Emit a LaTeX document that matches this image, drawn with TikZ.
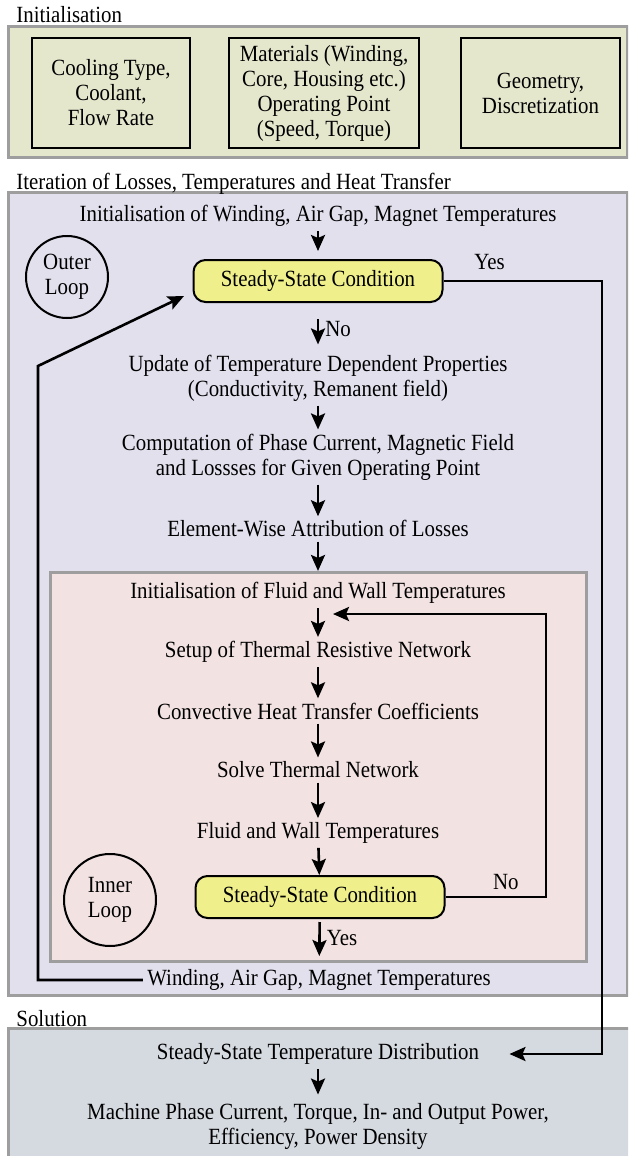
\documentclass[tikz,border=0pt]{standalone}
\usepackage{fontspec}
\setmainfont[FakeStretch=0.9]{Liberation Serif}
\usepackage{tikz}
\usetikzlibrary{arrows.meta,positioning}

\definecolor{initbg}{HTML}{E5E7CD}
\definecolor{iterbg}{HTML}{E3E0EE}
\definecolor{innerbg}{HTML}{F3E2E2}
\definecolor{solbg}{HTML}{D5D9E0}
\definecolor{panelgray}{HTML}{9E9E9E}
\definecolor{condyellow}{HTML}{EFEF8C}

\begin{document}
\begin{tikzpicture}[x=0.5pt,y=-0.5pt,>={Stealth[length=8pt,width=7pt,inset=1.5pt]},
    font=\fontsize{11.6}{12.5}\selectfont,
    panel/.style={draw=panelgray,line width=1.5pt},
    inbox/.style={draw,line width=1pt,minimum width=79pt,minimum height=55pt,align=center},
    stage/.style={align=center,inner sep=2pt},
    cond/.style={draw,line width=1pt,rounded corners=6pt,fill=condyellow,
      minimum width=124.5pt,minimum height=21pt},
    loopc/.style={draw,line width=1pt,circle,align=center,inner sep=0pt},
    flow/.style={->,line width=1.3pt},
    title/.style={anchor=base west,inner sep=0pt}]
    \useasboundingbox (0,0) rectangle (628,1156);
    \clip (0,0) rectangle (628,1156);

    % panels
    \draw[panel,fill=initbg] (8,27) rectangle (627,157);
    \draw[panel,fill=iterbg] (8,192) rectangle (627,995);
    \draw[panel,fill=innerbg] (50,572) rectangle (586,961);
    \draw[panel,fill=solbg] (8,1028) rectangle (640,1180);

    \node[title] (tinit) at (16,23) {Initialisation};
    \node[title] (titer) at (16,189) {Iteration of Losses, Temperatures and Heat Transfer};
    \node[title] (tsol) at (16,1026) {Solution};

    % initialisation inputs
    \node[inbox] (cool) at (111,93) {Cooling Type,\\Coolant,\\Flow Rate};
    \node[inbox,minimum width=95pt] (mat) at (324,93) {Materials (Winding,\\Core, Housing etc.)\\Operating Point\\(Speed, Torque)};
    \node[inbox,minimum width=79.5pt] (geo) at (540.5,93) {Geometry,\\Discretization};

    % outer loop
    \node[loopc,minimum size=41pt] (outer) at (67,277) {Outer\\Loop};
    \node[stage] (wmt0) at (318,216) {Initialisation of Winding, Air Gap, Magnet Temperatures};
    \node[cond] (ss1) at (318,281) {Steady-State Condition};
    \node[stage] (upd) at (318,378) {Update of Temperature Dependent Properties\\(Conductivity, Remanent field)};
    \node[stage] (comp) at (318,457) {Computation of Phase Current, Magnetic Field\\and Lossses for Given Operating Point};
    \node[stage] (attr) at (318,529) {Element-Wise Attribution of Losses};

    % inner loop
    \node[loopc,minimum size=46pt] (inner) at (110,900) {Inner\\Loop};
    \node[stage] (fw0) at (318,593) {Initialisation of Fluid and Wall Temperatures};
    \node[stage] (net) at (318,652) {Setup of Thermal Resistive Network};
    \node[stage] (htc) at (318,711) {Convective Heat Transfer Coefficients};
    \node[stage] (solve) at (318,770) {Solve Thermal Network};
    \node[stage] (fwt) at (318,833) {Fluid and Wall Temperatures};
    \node[cond] (ss2) at (320,897) {Steady-State Condition};
    \node[stage] (wmt) at (319,980) {Winding, Air Gap, Magnet Temperatures};

    % solution
    \node[stage] (ssd) at (318,1054) {Steady-State Temperature Distribution};
    \node[stage] (mach) at (318,1126) {Machine Phase Current, Torque, In- and Output Power,\\Efficiency, Power Density};

    \coordinate (yc) at (602,281);
    \coordinate (ib) at (546,614);
    \coordinate (ibtip) at (333,614);
    \coordinate (ob) at (38,366);
    \coordinate (obtip) at (184,296);

    \draw[flow,shorten >=4pt] (wmt0) -- (ss1);
    \draw[flow,shorten <=8pt,shorten >=3pt] (ss1) -- node[right=3pt,pos=0.55,inner sep=0pt] {No} (upd);
    \draw[flow] (upd) -- (comp);
    \draw[flow] (comp) -- (attr);
    \draw[flow,shorten >=3.5pt] (attr) -- (fw0);
    \draw[flow] (fw0) -- (net);
    \draw[flow] (net) -- (htc);
    \draw[flow] (htc) -- (solve);
    \draw[flow] (solve) -- (fwt);
    \draw[flow] (fwt) -- (ss2);
    \draw[flow,shorten <=1.5pt,shorten >=4.5pt] (ss2) -- node[right=3pt,pos=0.41,inner sep=0pt] {Yes} (wmt);
    \draw[flow,shorten >=2pt] (ssd) -- (mach);

    % loop returns
    \draw[flow] (ss2.east) -| node[above=3pt,pos=0.3,inner sep=0pt] {No} (ib) -- (ibtip);
    \draw[flow] (wmt.west) -| (ob) -- (obtip);
    \draw[flow,shorten >=13pt] (ss1.east) -- node[above=5pt,pos=0.29,inner sep=0pt] {Yes} (yc) |- (ssd.east);
\end{tikzpicture}
\end{document}
